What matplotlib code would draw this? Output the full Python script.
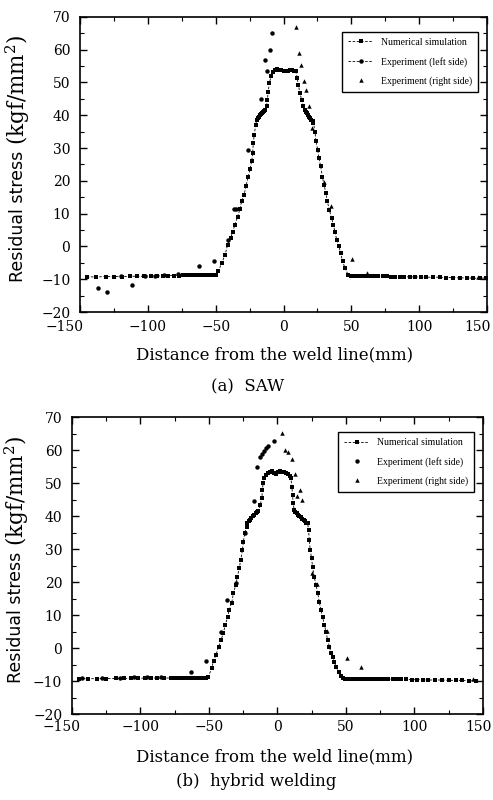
import matplotlib
matplotlib.use("Agg")
import matplotlib.pyplot as plt
from matplotlib.lines import Line2D
from matplotlib.ticker import MultipleLocator
from matplotlib.transforms import ScaledTranslation

plt.rcParams['font.family'] = 'DejaVu Serif'
plt.rcParams['mathtext.fontset'] = 'dejavuserif'

# ---- (a) SAW ----
saw_sim_x = [-145, -138, -131, -125, -119, -113, -108, -103, -98, -93, -89, -85, -81, -77,
             -74, -71, -68, -66, -64, -62, -60, -58, -56, -54, -52, -50,
             -48, -45.6, -43.1, -41.2, -39, -37.5, -35.8, -33.8, -32.1, -30.9, -29.1, -27.7,
             -26, -24.7, -23.5, -22.7, -22.3, -21.6, -20.5, -19.8, -19, -18.2, -17.4, -16.6,
             -15.8, -15, -14.2, -13.5, -12.4, -12, -11.2, -10.5, -9.2, -7.5,
             -6, -4.5, -3, -1.5, 0, 1.5, 3, 4.5, 6, 7.5, 9,
             10.1, 10.9, 12.1, 13.4, 14.6, 15.8, 16.6, 17.4, 18.2, 19, 19.8, 20.6, 21.4, 22,
             23.2, 23.9, 25.2, 26.1, 27.4, 28.6, 29.8, 31.3, 32.3, 33.7, 35.5, 36.7, 37.9,
             39.2, 40.9, 42.1, 43.6, 45.3, 47.7,
             49.5, 51.5, 53.5, 55.5, 57.5, 59.5, 62, 64.5, 67, 70, 73, 76, 79, 82, 85.5,
             89, 93, 97, 101, 105, 110, 115, 120, 125, 130, 135, 140, 145, 149]
saw_sim_y = [-9.3, -9.3, -9.2, -9.2, -9.2, -9.1, -9.1, -9.1, -9.0, -9.0, -9.0, -8.9, -8.9, -8.9,
             -8.8, -8.8, -8.8, -8.8, -8.8, -8.8, -8.8, -8.8, -8.8, -8.8, -8.8, -8.8,
             -7.5, -5.1, -2.6, 0.5, 2.5, 4.5, 6.6, 9.1, 11.4, 13.7, 15.7, 18.3,
             21.3, 23.6, 25.9, 28.4, 31.5, 34, 37.1, 38.6, 39.2, 39.6, 40, 40.3,
             40.6, 40.9, 41.3, 41.7, 42.7, 44.7, 47.2, 49.8, 51.8, 53.3,
             53.8, 54, 53.8, 53.7, 53.6, 53.6, 53.6, 53.7, 53.7, 53.6, 53.4,
             51.3, 49.3, 46.7, 44.7, 42.7, 41.6, 41.1, 40.6, 40.1, 39.6, 39.1, 38.6, 38.1, 37.7,
             35, 32, 29.5, 26.9, 24.4, 21.3, 18.8, 16.2, 13.7, 11.2, 8.6, 6.6, 4.5,
             2, 0, -2, -4.6, -6.6, -8.7,
             -8.9, -8.9, -8.9, -8.9, -8.9, -9.0, -9.0, -9.0, -9.0, -9.1, -9.1, -9.1, -9.2, -9.2, -9.2,
             -9.2, -9.3, -9.3, -9.3, -9.4, -9.4, -9.4, -9.5, -9.5, -9.6, -9.6, -9.7, -9.7, -9.6]
saw_left_x = [-137, -130, -111.5, -120, -102, -95, -88, -78, -62.2, -51.5, -41, -36.5, -34.8,
              -26, -16.6, -14, -12.4, -10.3, -8.2]
saw_left_y = [-12.7, -13.9, -11.7, -9.0, -9.0, -8.9, -8.7, -8.5, -6, -4.6, 2, 11.3, 11.3,
              29.5, 44.9, 56.9, 53.6, 59.8, 65]
saw_right_x = [9.2, 11.6, 12.9, 15.1, 16.5, 18.8, 20.7, 30, 35, 50.7, 61.3, 143.5]
saw_right_y = [67, 59.1, 55.2, 50.3, 47.7, 42.7, 36.1, 19.5, 12.2, -3.9, -8, -9.2]

# ---- (b) hybrid welding ----
hyb_sim_x = [-145, -138, -131.5, -125, -118, -112, -107, -101.5, -97, -92, -88, -83, -77.5,
             -75, -72.5, -70, -67.5, -65, -62.5, -60, -57.5, -55, -52.5, -50.5,
             -48.1, -46.6, -44.9, -43, -41.2, -39.5, -38.1, -36.4, -35.3, -33.4, -32.2, -30.4,
             -29.3, -28, -26.8, -25.6, -24.9, -23.9, -22.4, -21.9, -21, -20, -19, -18, -17,
             -16, -15, -14, -12.7, -11.4, -11, -10.5, -9.7, -8.5,
             -7, -5.5, -4, -2.5, -1, 0.5, 2, 3.5, 5, 6.5, 8, 9.2,
             9.8, 10.5, 11, 11.5, 12.2, 13, 14, 15, 16, 17, 18, 19, 20, 21, 22,
             22.7, 23.2, 23.9, 24.9, 25.6, 26.8, 28.1, 29.3, 30.5, 31.7, 32.9, 34.2, 35.4,
             36.6, 37.9, 39.1, 40.3, 41.5, 42.7, 44.6, 46, 47.5,
             49.5, 51.5, 53.5, 55.5, 57.5, 59.5, 61.5, 63.5, 65.5, 67.5, 70, 72.5, 75, 78,
             81, 84, 87, 90.5, 94, 98, 102, 106, 110, 115, 120, 125, 130, 135, 140, 145]
hyb_sim_y = [-9.3, -9.3, -9.3, -9.3, -9.2, -9.2, -9.2, -9.2, -9.1, -9.1, -9.1, -9.1, -9.1,
             -9.1, -9.1, -9.1, -9.1, -9.1, -9.1, -9.1, -9.1, -9.1, -9.0, -8.8,
             -6.2, -3.8, -2.1, 0.4, 2.4, 4.6, 7, 9.3, 11.5, 13.7, 16.6, 19.1,
             21.6, 24.1, 26.7, 29.7, 32.2, 34.8, 36.8, 37.8, 38.4, 38.9, 39.4, 39.9, 40.3,
             40.8, 41.2, 41.6, 43.3, 45.4, 47.9, 49.9, 51.4, 52.4,
             53, 53.3, 53.5, 53.1, 52.8, 53.2, 53.5, 53.4, 53.2, 53.1, 52.8, 52.2,
             51.4, 48.9, 46.4, 43.8, 41.8, 41.3, 40.8, 40.4, 40, 39.6, 39.2, 38.8, 38.4, 38, 37.8,
             35.8, 32.7, 29.7, 27.2, 24.6, 21.6, 19.1, 16.8, 14, 11.5, 9.5, 7, 5,
             2.4, 0.4, -1.6, -2.6, -4.2, -5.7, -7.2, -8.5, -9.2,
             -9.3, -9.3, -9.3, -9.3, -9.3, -9.3, -9.3, -9.3, -9.3, -9.3, -9.3, -9.4, -9.4, -9.4,
             -9.4, -9.5, -9.5, -9.5, -9.5, -9.6, -9.6, -9.6, -9.7, -9.7, -9.7, -9.8, -9.8, -9.8, -9.9, -9.9]
hyb_left_x = [-143, -128, -115, -105, -95, -85, -63.2, -52.4, -41.4, -36.6, -30.4, -23.8,
              -16.8, -14.6, -12.4, -11.3, -10, -8.5, -7, -2.8]
hyb_left_y = [-9.0, -9.2, -9.0, -8.8, -8.7, -8.9, -7.3, -3.8, 4.9, 14.5, 19.6, 34.8,
              44.7, 55, 57.9, 58.7, 59.8, 60.5, 61.1, 62.8]
hyb_right_x = [3, 5.6, 7.5, 10.5, 12.7, 14.6, 16.4, 18, 25.4, 29, 36.5, 51, 61.3, 143]
hyb_right_y = [65.2, 60, 59.4, 57.2, 52.8, 46, 47.8, 44.8, 22.8, 19.5, 5.2, -3.1, -5.7, -9.5]

xticks = [-150, -100, -50, 0, 50, 100, 150]
yticks = [-20, -10, 0, 10, 20, 30, 40, 50, 60, 70]

fig = plt.figure(figsize=(4.93, 8), dpi=100)
ax1 = fig.add_axes([0.1623, 0.61, 0.8256, 0.369])
ax2 = fig.add_axes([0.146, 0.1075, 0.8337, 0.3712])

# axes, data..., line on 2nd legend entry, ylabel x (axes coords), end-label shift (px), x pad
panels = [
    (ax1, saw_sim_x, saw_sim_y, saw_left_x, saw_left_y, saw_right_x, saw_right_y, True, -0.152, 4, 5.5),
    (ax2, hyb_sim_x, hyb_sim_y, hyb_left_x, hyb_left_y, hyb_right_x, hyb_right_y, False, -0.135, 9, 4),
]

ms = 3.2
for ax, sx, sy, lx, ly, rx, ry, left_line, ylx, shift, xpad in panels:
    ax.plot(sx, sy, color='black', ls=(0, (3, 2)), lw=0.6, marker='s', ms=ms, mew=0)
    ax.plot(lx, ly, ls='none', color='black', marker='o', ms=ms, mew=0)
    ax.plot(rx, ry, ls='none', color='black', marker='^', ms=ms, mew=0)

    ax.set_xlim(-150, 150)
    ax.set_ylim(-20, 70)
    ax.set_xticks(xticks)
    ax.set_yticks(yticks)
    ax.xaxis.set_minor_locator(MultipleLocator(25))
    ax.yaxis.set_minor_locator(MultipleLocator(5))
    ax.tick_params(which='both', direction='in', top=True, right=True, labelsize=10)
    ax.tick_params(which='major', length=5, width=1)
    ax.tick_params(which='minor', length=3, width=0.8)
    ax.tick_params(axis='x', pad=xpad)
    ax.tick_params(axis='y', pad=7)
    for sp in ax.spines.values():
        sp.set_linewidth(1.2)

    labels = ax.get_xticklabels()
    for lab in (labels[0], labels[-1]):
        lab.set_horizontalalignment('right')
        lab.set_transform(lab.get_transform() + ScaledTranslation(shift / 100, 0, fig.dpi_scale_trans))

    handles = [
        Line2D([], [], color='black', ls=(0, (3, 2)), lw=0.6, marker='s', ms=ms, mew=0),
        Line2D([], [], color='black', ls=(0, (3, 2)) if left_line else 'none', lw=0.6,
               marker='o', ms=ms, mew=0),
        Line2D([], [], color='black', ls='none', marker='^', ms=ms, mew=0),
    ]
    leg = ax.legend(handles, ['Numerical simulation', 'Experiment (left side)',
                              'Experiment (right side)'],
                    loc='upper right', bbox_to_anchor=(0.99, 0.965),
                    prop={'family': 'Liberation Serif', 'size': 7},
                    fancybox=False, framealpha=1, edgecolor='black',
                    handlelength=2.6, labelspacing=1.0, borderpad=0.6)
    leg.get_frame().set_linewidth(1.0)

    ax.text(ylx, 0.565, 'Residual stress ', rotation=90, transform=ax.transAxes,
            ha='center', va='top', family='DejaVu Sans', fontsize=12.5)
    ax.text(ylx, 0.565, '(kgf/mm$^2$)', rotation=90, transform=ax.transAxes,
            ha='center', va='bottom', fontsize=15.5)

fig.text(0.556, 0.556, 'Distance from the weld line(mm)', ha='center', va='center', fontsize=12)
fig.text(0.503, 0.516, '(a)  SAW', ha='center', va='center', fontsize=12)
fig.text(0.556, 0.054, 'Distance from the weld line(mm)', ha='center', va='center', fontsize=12)
fig.text(0.519, 0.0225, '(b)  hybrid welding', ha='center', va='center', fontsize=12)

fig.savefig('out.png', dpi=100)
